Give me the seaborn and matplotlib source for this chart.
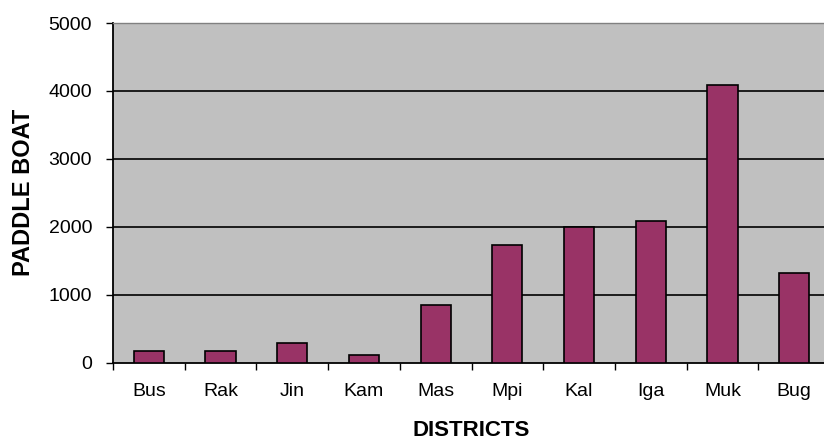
import matplotlib
matplotlib.use("Agg")
import matplotlib.pyplot as plt
import seaborn as sns
import pandas as pd
import numpy as np

districts = ["Bus", "Rak", "Jin", "Kam", "Mas", "Mpi", "Kal", "Iga", "Muk", "Bug"]
paddle_boats = [176, 176, 294, 113, 853, 1730, 1995, 2088, 4093, 1322]

sns.set_style("white")
plt.rcParams['font.family'] = ['Liberation Sans', 'DejaVu Sans']
plt.rcParams['text.color'] = 'black'
plt.rcParams['axes.labelcolor'] = 'black'
plt.rcParams['xtick.color'] = 'black'
plt.rcParams['ytick.color'] = 'black'

fig = plt.figure(figsize=(8.24, 4.48), dpi=100)
ax = fig.add_axes([113/824, 85.5/448, (830-113)/824, (362.5-23)/448])
ax.set_facecolor("#C0C0C0")

df = pd.DataFrame({"District": districts, "Boats": paddle_boats})
sns.barplot(data=df, x="District", y="Boats", color="#993366", width=0.42,
            edgecolor="black", linewidth=1.2, saturation=1, ax=ax, zorder=3)

ax.set_ylim(0, 5000)
ax.set_xlim(-0.5, len(districts) - 0.5)
ax.set_yticks(np.arange(0, 5001, 1000))
for y in range(1000, 5000, 1000):
    ax.axhline(y, color="black", lw=1.2, zorder=1)

ax.tick_params(axis="y", which="major", left=True, direction="out", length=5, width=1,
               color="black", pad=10, labelsize=14, labelcolor="black")
ax.tick_params(axis="x", which="major", bottom=True, length=0, pad=15, labelsize=14,
               labelcolor="black")
ax.set_xticks(np.arange(-0.5, len(districts), 1.0), minor=True)
ax.tick_params(axis="x", which="minor", bottom=True, direction="out", length=5, width=1,
               color="black")

for s in ["left", "bottom"]:
    ax.spines[s].set_color("black")
    ax.spines[s].set_linewidth(1.3)
for s in ["top", "right"]:
    ax.spines[s].set_color("#808080")
    ax.spines[s].set_linewidth(1.0)
    ax.spines[s].set_visible(True)

ax.set_xlabel("DISTRICTS", fontsize=16, fontweight="bold", labelpad=14.5, color="black")
ax.set_ylabel("PADDLE BOAT", fontsize=17, fontweight="bold", labelpad=10, color="black")

fig.savefig("out.png", dpi=100)
